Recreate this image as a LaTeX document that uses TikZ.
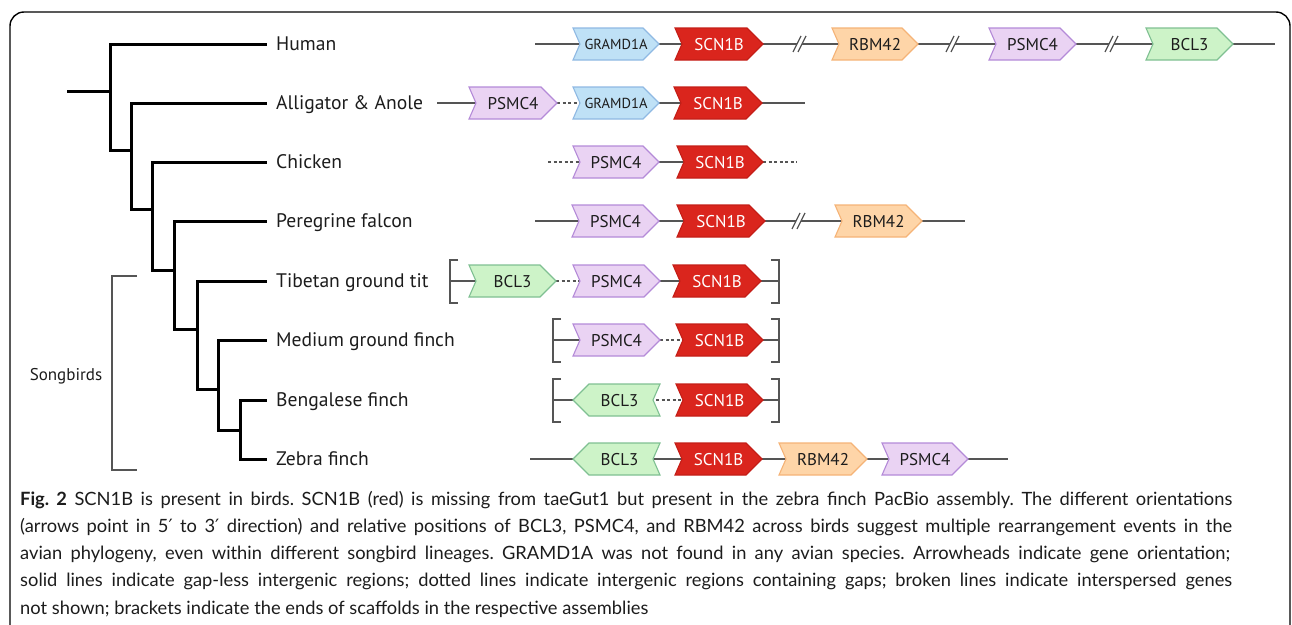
\documentclass[tikz,border=0pt]{standalone}
\usepackage{fontspec}
\setmainfont{PT Sans}
\newfontfamily\capfont{Lato}
\newfontfamily\djv{DejaVu Sans}
\usetikzlibrary{backgrounds}
\definecolor{gramF}{HTML}{BFE1F6}\definecolor{gramD}{HTML}{8FB9E3}
\definecolor{scnF}{HTML}{DA251D}\definecolor{scnD}{HTML}{C41E17}
\definecolor{rbmF}{HTML}{FED5A8}\definecolor{rbmD}{HTML}{F5B377}
\definecolor{psmF}{HTML}{EAD3F3}\definecolor{psmD}{HTML}{B48AD8}
\definecolor{bclF}{HTML}{CDF3C8}\definecolor{bclD}{HTML}{7FC092}
\definecolor{lineC}{HTML}{555555}
\definecolor{txt}{HTML}{1C1C1C}
\tikzset{
  gram/.style={fill=gramF,draw=gramD},
  scn/.style={fill=scnF,draw=scnD},
  rbm/.style={fill=rbmF,draw=rbmD},
  psm/.style={fill=psmF,draw=psmD},
  bcl/.style={fill=bclF,draw=bclD},
  gramtxt/.style={font=\fontsize{14.5}{14.5}\selectfont,text=txt,text height=10.3pt},
  scntxt/.style={font=\fontsize{17}{17}\selectfont,text=white},
  rbmtxt/.style={font=\fontsize{17}{17}\selectfont,text=txt},
  psmtxt/.style={font=\fontsize{17}{17}\selectfont,text=txt},
  bcltxt/.style={font=\fontsize{17}{17}\selectfont,text=txt},
  gshape/.style={line width=1.1pt,line join=miter},
  gbox/.style={inner sep=0pt,minimum height=32pt,anchor=center,text height=12pt,text depth=0pt},
  gl/.style={draw=lineC,line width=1.3pt},
  gap/.style={draw=lineC,line width=1.3pt,dash pattern=on 3pt off 2.5pt},
  scaf/.style={draw=lineC,line width=1.5pt},
  tree/.style={draw=black,line width=3pt,line cap=rect},
  sp/.style={anchor=west,inner xsep=11pt,inner ysep=0pt,font=\fontsize{19.6}{19.6}\selectfont,text=txt,text height=13.8pt,text depth=0pt},
  capl/.style={anchor=base west,inner sep=0pt,font=\capfont\fontsize{18.3}{18.3}\selectfont\frenchspacing,text=txt},
}
% forward gene: name, left, tip, y, kind, label
\newcommand\geneR[6]{%
  \draw[gshape,#5] (#2,{#4-16}) -- ({#3-16},{#4-16}) -- (#3,#4) -- ({#3-16},{#4+16}) -- (#2,{#4+16}) -- ({#2+7},#4) -- cycle;
  \node[gbox,#5txt,minimum width={#3-#2}] (#1) at ({(#2+#3)/2},#4) {#6};}
% reverse gene: name, tip(left), right, y, kind, label
\newcommand\geneL[6]{%
  \draw[gshape,#5] (#2,#4) -- ({#2+16},{#4-16}) -- (#3,{#4-16}) -- ({#3-7},#4) -- (#3,{#4+16}) -- ({#2+16},{#4+16}) -- cycle;
  \node[gbox,#5txt,minimum width={#3-#2}] (#1) at ({(#2+#3)/2+3},#4) {#6};}
% broken-line mark: x, y
\newcommand\brk[2]{%
  \fill[white] ({#1-7},{#2+8}) -- ({#1+1},{#2-8}) -- ({#1+6},{#2-8}) -- ({#1-2},{#2+8}) -- cycle;
  \draw[gl] ({#1-7},{#2+8}) -- ({#1+1},{#2-8});
  \draw[gl] ({#1-2},{#2+8}) -- ({#1+6},{#2-8});}
% scaffold brackets: x, y
\newcommand\lbr[2]{\draw[scaf] ({#1+8},{#2-21}) -- (#1,{#2-21}) -- (#1,{#2+22}) -- ({#1+8},{#2+22});}
\newcommand\rbr[2]{\draw[scaf] ({#1-8},{#2-21}) -- (#1,{#2-21}) -- (#1,{#2+22}) -- ({#1-8},{#2+22});}
\newcommand\pr{{\djv\char"2032}}
\begin{document}
\begin{tikzpicture}[x=1pt,y=-1pt]
\useasboundingbox (0,0) rectangle (1292,624);
\begin{scope}
\clip (0,0) rectangle (1292,624);
\draw[line width=1.4pt,rounded corners=14pt] (10,12) rectangle (1290,700);
\end{scope}

% ---------- species labels ----------
\node[sp] (hum) at (265,44) {Human};
\node[sp] (all) at (265,103) {Alligator \& Anole};
\node[sp] (chi) at (265,162) {Chicken};
\node[sp] (per) at (265,221) {Peregrine falcon};
\node[sp] (tib) at (265,281) {Tibetan ground tit};
\node[sp] (med) at (265,340) {Medium ground finch};
\node[sp] (ben) at (265,400) {Bengalese finch};
\node[sp] (zeb) at (265,459) {Zebra finch};

% ---------- tree ----------
\coordinate (r0) at (68,91);
\coordinate (n1) at (110,91);
\coordinate (n2) at (131,150);
\coordinate (n3) at (152,209);
\coordinate (n4) at (174,270);
\coordinate (n5) at (197,329);
\coordinate (n6) at (218,389);
\coordinate (n7) at (240,430);
\draw[tree] (r0) -- (n1);
\draw[tree] (hum.west) -| (n1) |- (n2);
\draw[tree] (all.west) -| (n2) |- (n3);
\draw[tree] (chi.west) -| (n3) |- (n4);
\draw[tree] (per.west) -| (n4) |- (n5);
\draw[tree] (tib.west) -| (n5) |- (n6);
\draw[tree] (med.west) -| (n6) |- (n7);
\draw[tree] (ben.west) -| (n7) |- (zeb.west);

% songbirds bracket
\draw[draw=lineC,line width=1.2pt] (137,276) -- (112,276) -- (112,470) -- (137,470);
\node[font=\fontsize{17}{17}\selectfont,text=txt] (song) at (66,376) {Songbirds};

% ---------- Human ----------
\geneR{hG}{573}{659}{44}{gram}{GRAMD1A}
\geneR{hS}{675}{763}{44}{scn}{SCN1B}
\geneR{hR}{832}{918}{44}{rbm}{RBM42}
\geneR{hP}{989}{1076}{44}{psm}{PSMC4}
\geneR{hB}{1146}{1233}{44}{bcl}{BCL3}
\coordinate (h0) at (535,44); \coordinate (h9) at (1275,44);
\begin{scope}[on background layer]
\draw[gl] (h0) -- (hG.center) -- (hS.center) -- (hR.center) -- (hP.center) -- (hB.center) -- (h9);
\end{scope}
\brk{800}{44}\brk{953}{44}\brk{1112}{44}

% ---------- Alligator ----------
\geneR{aP}{469}{557}{103}{psm}{PSMC4}
\geneR{aG}{573}{659}{103}{gram}{GRAMD1A}
\geneR{aS}{674}{762}{103}{scn}{SCN1B}
\coordinate (a0) at (437,103); \coordinate (a9) at (805,103);
\begin{scope}[on background layer]
\draw[gl] (a0) -- (aP.center);
\draw[gap] (aP.east) -- ([xshift=8]aG.west);
\draw[gl] (aG.center) -- (aS.center) -- (a9);
\end{scope}

% ---------- Chicken ----------
\geneR{cP}{573}{659}{162}{psm}{PSMC4}
\geneR{cS}{677}{763}{162}{scn}{SCN1B}
\coordinate (c0) at (548,162); \coordinate (c9) at (797,162);
\begin{scope}[on background layer]
\draw[gap] (c0) -- ([xshift=8]cP.west);
\draw[gl] (cP.center) -- (cS.center);
\draw[gap] (cS.east) -- (c9);
\end{scope}

% ---------- Peregrine falcon ----------
\geneR{pP}{572}{659}{221}{psm}{PSMC4}
\geneR{pS}{677}{765}{221}{scn}{SCN1B}
\geneR{pR}{835}{922}{221}{rbm}{RBM42}
\coordinate (p0) at (535,221); \coordinate (p9) at (965,221);
\begin{scope}[on background layer]
\draw[gl] (p0) -- (pP.center) -- (pS.center) -- (pR.center) -- (p9);
\end{scope}
\brk{799}{221}

% ---------- Tibetan ground tit ----------
\geneR{tB}{469}{556}{281}{bcl}{BCL3}
\geneR{tP}{573}{660}{281}{psm}{PSMC4}
\geneR{tS}{673}{761}{281}{scn}{SCN1B}
\coordinate (t0) at (450,281); \coordinate (t9) at (779,281);
\lbr{450}{281}\rbr{779}{281}
\begin{scope}[on background layer]
\draw[gl] (t0) -- (tB.center);
\draw[gap] (tB.east) -- ([xshift=8]tP.west);
\draw[gl] (tP.center) -- (tS.center) -- (t9);
\end{scope}

% ---------- Medium ground finch ----------
\geneR{mP}{573}{660}{340}{psm}{PSMC4}
\geneR{mS}{676}{763}{340}{scn}{SCN1B}
\coordinate (m0) at (553,340); \coordinate (m9) at (779,340);
\lbr{553}{340}\rbr{779}{340}
\begin{scope}[on background layer]
\draw[gl] (m0) -- (mP.center);
\draw[gap] (mP.east) -- ([xshift=8]mS.west);
\draw[gl] (mS.center) -- (m9);
\end{scope}

% ---------- Bengalese finch ----------
\geneL{bB}{573}{660}{400}{bcl}{BCL3}
\geneR{bS}{676}{763}{400}{scn}{SCN1B}
\coordinate (b0) at (553,400); \coordinate (b9) at (779,400);
\lbr{553}{400}\rbr{779}{400}
\begin{scope}[on background layer]
\draw[gl] (b0) -- (bB.center);
\draw[gap] ([xshift=-7]bB.east) -- ([xshift=8]bS.west);
\draw[gl] (bS.center) -- (b9);
\end{scope}

% ---------- Zebra finch ----------
\geneL{zB}{573}{660}{459}{bcl}{BCL3}
\geneR{zS}{675}{762}{459}{scn}{SCN1B}
\geneR{zR}{779}{867}{459}{rbm}{RBM42}
\geneR{zP}{882}{968}{459}{psm}{PSMC4}
\coordinate (z0) at (530,459); \coordinate (z9) at (1008,459);
\begin{scope}[on background layer]
\draw[gl] (z0) -- (zB.center) -- (zS.center) -- (zR.center) -- (zP.center) -- (z9);
\end{scope}

% ---------- caption ----------
\node[capl] (cap1) at (20,505) {\makebox[1212pt][s]{\textbf{Fig. 2} SCN1B is present in birds. SCN1B (red) is missing from taeGut1 but present in the zebra finch PacBio assembly. The different orientations}};
\node[capl] (cap2) at (20,532.3) {\makebox[1212pt][s]{(arrows point in 5\pr{} to 3\pr{} direction) and relative positions of BCL3, PSMC4, and RBM42 across birds suggest multiple rearrangement events in the}};
\node[capl] (cap3) at (20,559.6) {\makebox[1210pt][s]{avian phylogeny, even within different songbird lineages. GRAMD1A was not found in any avian species. Arrowheads indicate gene orientation;}};
\node[capl] (cap4) at (20,586.9) {\makebox[1212pt][s]{solid lines indicate gap-less intergenic regions; dotted lines indicate intergenic regions containing gaps; broken lines indicate interspersed genes}};
\node[capl] (cap5) at (20,614.2) {not shown; brackets indicate the ends of scaffolds in the respective assemblies};
\end{tikzpicture}
\end{document}
